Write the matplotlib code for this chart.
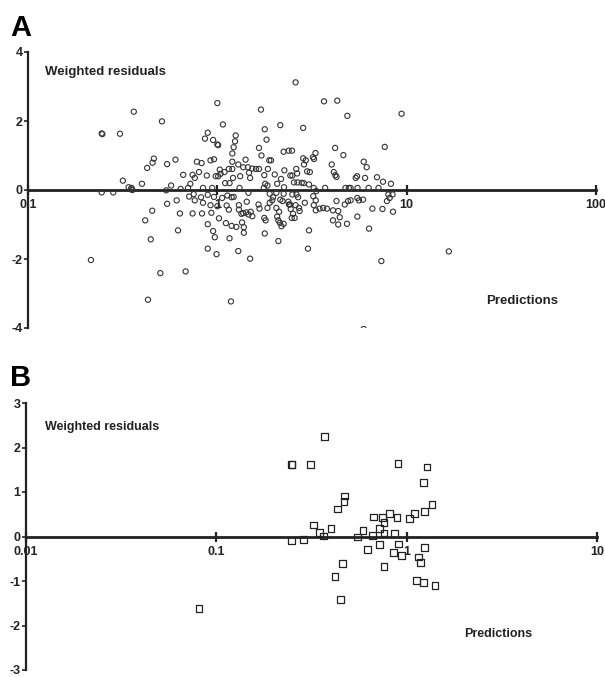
import matplotlib.pyplot as plt
import matplotlib.ticker as mticker
import numpy as np

# panel A: predictions vs weighted residuals (circles)
pred_a = [
    0.245, 0.247, 0.306, 0.362, 0.51, 1.0, 1.07, 2.15, 2.59, 3.66, 4.30, 4.86, 9.4, 2.84, 7.66, 1.70,
    0.89, 0.86, 0.95, 1.0, 1.01, 1.25, 1.24, 1.78, 1.82, 1.22, 1.66, 1.20, 1.71,
    0.462, 0.455, 0.426, 0.543, 0.601, 0.78, 0.826, 0.92, 0.96, 1.20, 1.41, 1.88,
    0.66, 0.74, 0.76, 0.80, 0.88, 1.03, 1.04, 1.01, 0.98, 1.09, 1.15, 1.20, 1.29, 1.37, 1.45,
    1.53, 1.60, 1.66, 1.32, 1.21, 1.47, 1.49, 1.77, 1.85,
    0.40, 0.57, 0.64, 0.72, 0.70, 0.84, 0.94, 1.10, 1.16, 1.31, 1.79, 1.84, 1.76, 0.352,
    0.317, 0.34, 0.35, 0.245, 0.282, 0.537, 0.356,
    2.24, 2.38, 2.48, 1.92, 2.84, 2.93, 3.2, 3.3, 3.24, 2.87, 4.19, 4.63, 5.93, 6.15, 4.02,
    4.12, 4.26, 4.2,
    2.01, 2.26, 2.61, 2.64, 2.49, 2.43, 2.98, 3.08,
    2.17, 2.07, 2.25, 2.54, 2.65, 2.79, 2.86, 3.05, 3.23, 3.33, 3.71,
    5.47, 5.38, 6.03, 6.97, 7.5, 8.26,
    4.75, 4.95, 5.05, 5.5, 6.3, 7.1,
    0.61, 0.543, 0.453, 0.416, 0.445, 0.62, 0.634, 0.74, 0.83, 0.93,
    0.71, 0.75, 0.76, 0.82, 0.84, 0.89, 0.92, 0.96, 1.0, 1.06, 1.13, 1.12, 1.19, 1.15, 1.30,
    1.43, 1.46, 1.22,
    1.02, 1.11, 1.19, 1.26, 0.89, 0.95, 0.97, 1.16, 0.89, 0.99, 1.29,
    1.35, 1.38, 1.38, 1.37, 1.42, 1.46, 1.53, 1.50,
    1.65, 1.67, 1.77, 1.80, 1.84, 1.89, 1.95, 1.78,
    0.215, 0.50, 0.68, 0.43, 1.18, 1.49, 1.30, 1.34,
    1.89, 1.97, 2.05, 2.24, 2.15, 2.21, 2.37, 2.39, 2.44, 2.05, 2.12, 2.07, 2.10, 2.14, 2.24, 2.18,
    2.51, 2.47, 2.56, 2.42, 2.59, 2.70, 2.72, 2.90, 2.67, 2.62, 2.49,
    3.21, 3.31, 3.23, 3.47, 3.62, 3.79, 3.31, 4.08, 4.35, 4.43, 4.08, 4.35, 4.84,
    4.26, 4.71, 4.90, 5.06, 5.49, 5.6, 5.88, 5.49, 6.33, 6.59, 7.45, 8.47, 7.87, 8.13, 8.42, 8.0,
    3.05, 2.10, 3.01, 7.35, 16.7, 5.93,
]
resid_a = [
    1.64, 1.62, 1.63, 2.27, 1.99, 2.52, 1.90, 1.88, 3.12, 2.57, 2.59, 2.15, 2.21, 1.80, 1.25, 2.33,
    1.66, 1.49, 1.45, 1.32, 1.30, 1.58, 1.41, 1.76, 1.46, 1.24, 1.22, 1.06, 1.00,
    0.91, 0.79, 0.64, 0.75, 0.88, 0.82, 0.78, 0.86, 0.89, 0.82, 0.88, 0.86,
    0.44, 0.44, 0.35, 0.52, 0.42, 0.59, 0.47, 0.40, 0.40, 0.52, 0.61, 0.61, 0.74, 0.66, 0.66,
    0.62, 0.61, 0.61, 0.40, 0.35, 0.50, 0.35, 0.43, 0.61,
    0.18, 0.13, 0.03, 0.18, 0.06, 0.06, 0.06, 0.20, 0.20, 0.06, 0.18, 0.13, 0.06, 0.06,
    0.27, 0.08, 0.02, -0.07, -0.07, -0.01, 0.0,
    1.11, 1.14, 1.14, 0.86, 0.92, 0.86, 0.95, 1.07, 0.90, 0.74, 1.22, 1.01, 0.82, 0.66, 0.74,
    0.52, 0.38, 0.43,
    0.45, 0.57, 0.61, 0.48, 0.42, 0.42, 0.54, 0.52,
    0.32, 0.18, 0.08, 0.22, 0.22, 0.21, 0.20, 0.16, 0.06, -0.03, 0.06,
    0.40, 0.35, 0.35, 0.37, 0.24, 0.18,
    0.06, 0.06, 0.06, 0.06, 0.06, 0.06,
    -0.30, -0.40, -0.60, -0.88, -1.43, -1.17, -0.68, -0.68, -0.68, -0.66,
    -0.19, -0.12, -0.30, -0.21, -0.37, -0.14, -0.44, -0.20, -0.47, -0.23, -0.16, -0.45, -0.21, -0.57, -0.44,
    -0.34, -0.08, -0.20,
    -0.82, -0.96, -1.04, -1.07, -0.99, -1.19, -1.37, -1.40, -1.70, -1.86, -1.77,
    -0.94, -1.08, -1.24, -0.67, -0.65, -0.71, -0.76, -0.63,
    -0.42, -0.54, -0.81, -0.88, -0.52, -0.37, -0.30, -1.26,
    -2.03, -2.41, -2.36, -3.18, -3.23, -1.99, -0.57, -0.69,
    -0.11, -0.21, -0.08, -0.11, -0.28, -0.32, -0.34, -0.42, -0.55, -0.52, -0.63, -0.77, -0.88, -0.95, -0.98, -1.05,
    -0.69, -0.81, -0.81, -0.42, -0.44, -0.52, -0.61, -0.37, -0.21, -0.13, -0.13,
    -0.18, -0.30, -0.44, -0.54, -0.52, -0.54, -0.59, -0.59, -0.61, -0.79, -0.88, -1.0, -0.98,
    -0.32, -0.42, -0.32, -0.30, -0.23, -0.30, -0.28, -0.77, -1.12, -0.54, -0.55, -0.63, -0.32, -0.23, -0.13, -0.13,
    -1.17, -1.48, -1.70, -2.06, -1.78, -4.03,
]

# panel B: predictions vs weighted residuals (squares)
pred_b = [
    0.37, 0.249, 0.250, 0.312, 0.90, 1.28, 1.23, 1.36, 0.47, 0.468, 0.435, 1.24, 1.10, 1.03, 0.81,
    0.89, 0.67, 0.75, 0.76, 0.72, 0.76, 0.86, 0.325, 0.347, 0.365, 0.40, 0.249, 0.286, 0.55, 0.59,
    0.66, 0.62, 0.72, 0.91, 0.85, 0.94, 1.24, 1.15, 1.18, 0.76, 0.46, 0.42, 1.13, 1.23, 1.41,
    0.45, 0.081,
]
resid_b = [
    2.24, 1.61, 1.61, 1.61, 1.64, 1.56, 1.22, 0.72, 0.91, 0.79, 0.62, 0.57, 0.52, 0.41, 0.51,
    0.42, 0.44, 0.43, 0.31, 0.18, 0.08, 0.06, 0.26, 0.09, 0.01, 0.18, -0.09, -0.06, -0.01, 0.13,
    0.03, -0.30, -0.18, -0.17, -0.36, -0.43, -0.24, -0.46, -0.58, -0.68, -0.60, -0.90, -0.98, -1.04, -1.11,
    -1.42, -1.62,
]

plt.rcParams['font.family'] = ['Liberation Sans', 'DejaVu Sans']

W, H = 605, 677
fig = plt.figure(figsize=(W / 100, H / 100), dpi=100)


def style_axes(ax, xlim, ylim, yticks, xticks, xlabels):
    ax.set_xscale('log')
    ax.set_xlim(*xlim)
    ax.set_ylim(*ylim)
    for s in ['top', 'right']:
        ax.spines[s].set_visible(False)
    ax.spines['bottom'].set_position(('data', 0))
    ax.spines['bottom'].set_linewidth(2.0)
    ax.spines['left'].set_linewidth(1.6)
    ax.spines['left'].set_color('#222222')
    ax.spines['bottom'].set_color('#222222')
    ax.set_yticks(yticks)
    ax.set_yticklabels([str(t) for t in yticks], fontsize=9, fontweight='bold')
    ax.xaxis.set_major_locator(mticker.FixedLocator(xticks))
    ax.xaxis.set_minor_locator(mticker.NullLocator())
    ax.set_xticklabels(xlabels, fontsize=9, fontweight='bold')
    ax.tick_params(axis='x', direction='inout', length=7, width=1.6, pad=3, colors='#222222')
    ax.tick_params(axis='y', direction='out', length=3, width=1.2, pad=1, colors='#222222')
    ax.patch.set_visible(False)


# panel A
axA = fig.add_axes([28 / W, 1 - 328 / H, (596 - 28) / W, (328 - 52) / H])
axA.scatter(pred_a, resid_a, s=14, facecolors='none', edgecolors='#333333', linewidths=0.8, zorder=3)
style_axes(axA, (0.1, 100), (-4, 4), [4, 2, 0, -2, -4], [0.1, 1, 10, 100], ['0.1', '1', '10', '100'])

# panel B
axB = fig.add_axes([26 / W, 1 - 670 / H, (597 - 26) / W, (670 - 403) / H])
axB.scatter(pred_b, resid_b, s=24, marker='s', facecolors='none', edgecolors='#222222', linewidths=0.9, zorder=3)
style_axes(axB, (0.01, 10), (-3, 3), [3, 2, 1, 0, -1, -2, -3], [0.01, 0.1, 1, 10], ['0.01', '0.1', '1', '10'])

# labels
fig.text(10 / W, 1 - 36 / H, 'A', fontsize=21, fontweight='bold')
fig.text(10 / W, 1 - 386 / H, 'B', fontsize=21, fontweight='bold')
fig.text(45 / W, 1 - 75 / H, 'Weighted residuals', fontsize=9.5, fontweight='bold', color='#222222')
fig.text(486 / W, 1 - 304 / H, 'Predictions', fontsize=9.5, fontweight='bold', color='#222222')
fig.text(45 / W, 1 - 430 / H, 'Weighted residuals', fontsize=9, fontweight='bold', color='#222222')
fig.text(464 / W, 1 - 637 / H, 'Predictions', fontsize=9, fontweight='bold', color='#222222')

plt.savefig('out.png', dpi=100)
